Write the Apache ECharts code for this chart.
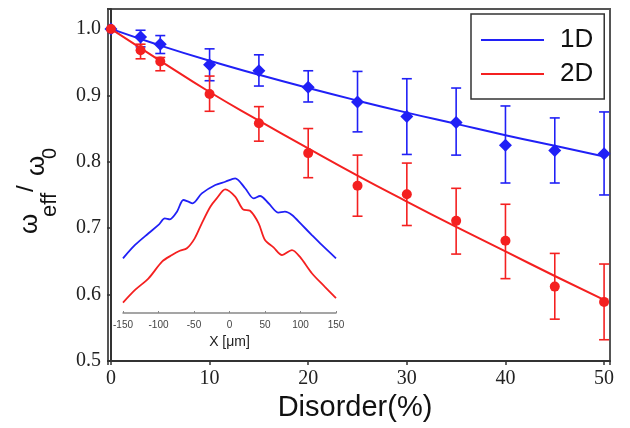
<!DOCTYPE html>
<html lang="en" style="height: 100%">
<head>
<meta charset="utf-8">
<title>Effective frequency vs disorder</title>
</head>
<body style="height: 100%; margin: 0; background: #fff">
<div id="container" style="width: 630px; height: 428px"></div>

<script type="text/javascript" src="https://cdn.jsdelivr.net/npm/echarts@6/dist/echarts.min.js"></script>

<script type="text/javascript">
var dom = document.getElementById('container');
var myChart = echarts.init(dom);

// main plot: disorder (%) and measured w_eff/w_0 with error bars
var disorder = [0, 3, 5, 10, 15, 20, 25, 30, 35, 40, 45, 50];
var val1D = [1.0, 0.988, 0.977, 0.946, 0.937, 0.912, 0.890, 0.868, 0.859, 0.825, 0.817, 0.812];
var lo1D  = [1.0, 0.973, 0.963, 0.922, 0.914, 0.890, 0.845, 0.811, 0.810, 0.768, 0.768, 0.750];
var hi1D  = [1.0, 0.998, 0.990, 0.970, 0.961, 0.937, 0.936, 0.925, 0.911, 0.884, 0.866, 0.875];
var val2D = [1.0, 0.968, 0.951, 0.902, 0.858, 0.813, 0.764, 0.751, 0.711, 0.681, 0.612, 0.589];
var lo2D  = [1.0, 0.955, 0.937, 0.876, 0.831, 0.776, 0.718, 0.704, 0.661, 0.624, 0.563, 0.532];
var hi2D  = [1.0, 0.977, 0.957, 0.929, 0.883, 0.850, 0.810, 0.798, 0.760, 0.736, 0.662, 0.646];

// fitted curves
var fitX  = [0, 5, 10, 15, 20, 25, 30, 35, 40, 45, 50];
var fit1D = [1.0, 0.975, 0.952, 0.931, 0.911, 0.892, 0.874, 0.857, 0.840, 0.824, 0.808];
var fit2D = [1.0, 0.952, 0.905, 0.862, 0.820, 0.779, 0.740, 0.702, 0.665, 0.628, 0.592];

// inset profiles (arbitrary units) vs X [um]
var insetBlueX = [-150, -133, -114, -100, -91, -84, -74, -65, -58, -52, -39, -20, -6, 8, 22, 34, 43, 55, 69, 78, 88, 102, 116, 130, 150];
var insetBlueY = [39.6, 49.3, 57.8, 63.8, 68.6, 67.9, 73.4, 81.9, 80.7, 79.5, 86.7, 92.8, 95.1, 97.6, 90.4, 83.1, 84.8, 79.5, 72.7, 73.4, 71.0, 63.8, 56.5, 49.3, 39.6];
var insetRedX = [-150, -133, -114, -95, -81, -70, -60, -49, -39, -27, -18, -6, 8, 19, 29, 41, 50, 62, 74, 88, 99, 116, 134, 150];
var insetRedY = [7.5, 16.7, 25.1, 37.2, 42.0, 45.1, 46.9, 54.1, 65.0, 77.0, 83.1, 89.6, 84.3, 75.1, 74.1, 65.0, 52.9, 47.6, 42.0, 45.6, 40.8, 28.8, 19.1, 10.7];

var BLUE = '#2020f6';
var RED = '#f42020';

function zip(xs, ys) {
  return xs.map(function (x, i) { return [x, ys[i]]; });
}

function errData(lo, hi) {
  return disorder.map(function (x, i) { return [x, lo[i], hi[i]]; });
}

function errorBars(color) {
  return function (params, api) {
    var x = api.value(0);
    var top = api.coord([x, api.value(2)]);
    var bot = api.coord([x, api.value(1)]);
    var w = 5;
    var style = { stroke: color, lineWidth: 1.6 };
    return {
      type: 'group',
      children: [
        { type: 'line', shape: { x1: top[0], y1: top[1], x2: bot[0], y2: bot[1] }, style: style },
        { type: 'line', shape: { x1: top[0] - w, y1: top[1], x2: top[0] + w, y2: top[1] }, style: style },
        { type: 'line', shape: { x1: bot[0] - w, y1: bot[1], x2: bot[0] + w, y2: bot[1] }, style: style }
      ]
    };
  };
}

var serif = 'Liberation Serif';
var sans = 'Liberation Sans';

function yTitle(text, size, x, y) {
  return {
    type: 'text',
    x: x,
    y: y,
    rotation: Math.PI / 2,
    style: {
      text: text,
      fontFamily: sans,
      fontSize: size,
      fill: '#111',
      textAlign: 'left',
      textVerticalAlign: 'middle'
    }
  };
}

option = {
  animation: false,
  grid: [
    { left: 108, right: 20, top: 9, bottom: 67, show: true, borderColor: '#555', borderWidth: 2 },
    { left: 123, width: 213, top: 175, height: 138 }
  ],
  legend: {
    data: ['1D', '2D'],
    orient: 'vertical',
    left: 471,
    top: 14,
    icon: 'rect',
    itemWidth: 63,
    itemHeight: 2,
    itemGap: 8,
    padding: [13, 11, 12, 10],
    borderColor: '#333',
    borderWidth: 1.5,
    backgroundColor: '#fff',
    textStyle: { fontFamily: sans, fontSize: 26, color: '#111', padding: [0, 0, 0, 11] }
  },
  xAxis: [
    {
      type: 'value',
      gridIndex: 0,
      min: -0.3,
      max: 50.6,
      splitNumber: 5,
      name: 'Disorder(%)',
      nameLocation: 'middle',
      nameGap: 32,
      nameTextStyle: { fontFamily: sans, fontSize: 29, color: '#111', padding: [0, 8, 0, 0] },
      axisLine: { lineStyle: { color: '#333', width: 2 } },
      axisTick: { length: 4, lineStyle: { color: '#333', width: 1.5 } },
      axisLabel: {
        fontFamily: serif, fontSize: 20, color: '#222', margin: 8,
        formatter: function (v) { return v % 10 === 0 ? String(v) : ''; }
      },
      splitLine: { show: false }
    },
    {
      type: 'value',
      gridIndex: 1,
      min: -150,
      max: 150,
      interval: 50,
      name: 'X [\u03bcm]',
      nameLocation: 'middle',
      nameGap: 22,
      nameTextStyle: { fontFamily: sans, fontSize: 14, color: '#222' },
      axisLine: { onZero: false, lineStyle: { color: '#888', width: 1.5 } },
      axisTick: { inside: true, length: 2, lineStyle: { color: '#888' } },
      axisLabel: { fontFamily: sans, fontSize: 10, color: '#444', margin: 7 },
      splitLine: { show: false }
    }
  ],
  yAxis: [
    {
      type: 'value',
      gridIndex: 0,
      min: 0.5,
      max: 1.03,
      interval: 0.1,
      axisLine: { show: true, lineStyle: { color: '#333', width: 2 } },
      axisTick: { show: true, length: 4, lineStyle: { color: '#333', width: 1.5 } },
      axisLabel: {
        fontFamily: serif, fontSize: 20, color: '#222', margin: 7,
        formatter: function (v) { return v > 1.005 ? '' : v.toFixed(1); }
      },
      splitLine: { show: false }
    },
    {
      type: 'value',
      gridIndex: 1,
      min: 0,
      max: 100,
      show: false
    }
  ],
  graphic: [
    yTitle('\u03c9', 26, 30, 234),
    yTitle('eff', 22, 50, 217),
    yTitle('/', 24, 26, 192),
    yTitle('\u03c9', 26, 37, 176),
    yTitle('0', 20, 50.5, 159)
  ],
  series: [
    {
      name: 'inset1D',
      type: 'line',
      xAxisIndex: 1,
      yAxisIndex: 1,
      data: zip(insetBlueX, insetBlueY),
      smooth: 0.3,
      showSymbol: false,
      lineStyle: { color: BLUE, width: 1.8 },
      itemStyle: { color: BLUE }
    },
    {
      name: 'inset2D',
      type: 'line',
      xAxisIndex: 1,
      yAxisIndex: 1,
      data: zip(insetRedX, insetRedY),
      smooth: 0.3,
      showSymbol: false,
      lineStyle: { color: RED, width: 1.8 },
      itemStyle: { color: RED }
    },
    {
      name: '1D',
      type: 'line',
      data: zip(fitX, fit1D),
      smooth: true,
      showSymbol: false,
      lineStyle: { color: BLUE, width: 2 },
      itemStyle: { color: BLUE }
    },
    {
      name: '2D',
      type: 'line',
      data: zip(fitX, fit2D),
      smooth: true,
      showSymbol: false,
      lineStyle: { color: RED, width: 2 },
      itemStyle: { color: RED }
    },
    {
      name: 'err1D',
      type: 'custom',
      data: errData(lo1D, hi1D),
      renderItem: errorBars(BLUE),
      encode: { x: 0, y: [1, 2] },
      z: 3
    },
    {
      name: 'err2D',
      type: 'custom',
      data: errData(lo2D, hi2D),
      renderItem: errorBars(RED),
      encode: { x: 0, y: [1, 2] },
      z: 3
    },
    {
      name: 'pts1D',
      type: 'scatter',
      data: zip(disorder, val1D),
      symbol: 'diamond',
      symbolSize: 13,
      itemStyle: { color: BLUE, opacity: 1 },
      z: 4
    },
    {
      name: 'pts2D',
      type: 'scatter',
      data: zip(disorder, val2D),
      symbol: 'circle',
      symbolSize: 10,
      itemStyle: { color: RED, opacity: 1 },
      z: 5
    }
  ]
};

if (option && typeof option === 'object') {
  myChart.setOption(option);
}

window.addEventListener('resize', myChart.resize);
</script>
</body>
</html>
